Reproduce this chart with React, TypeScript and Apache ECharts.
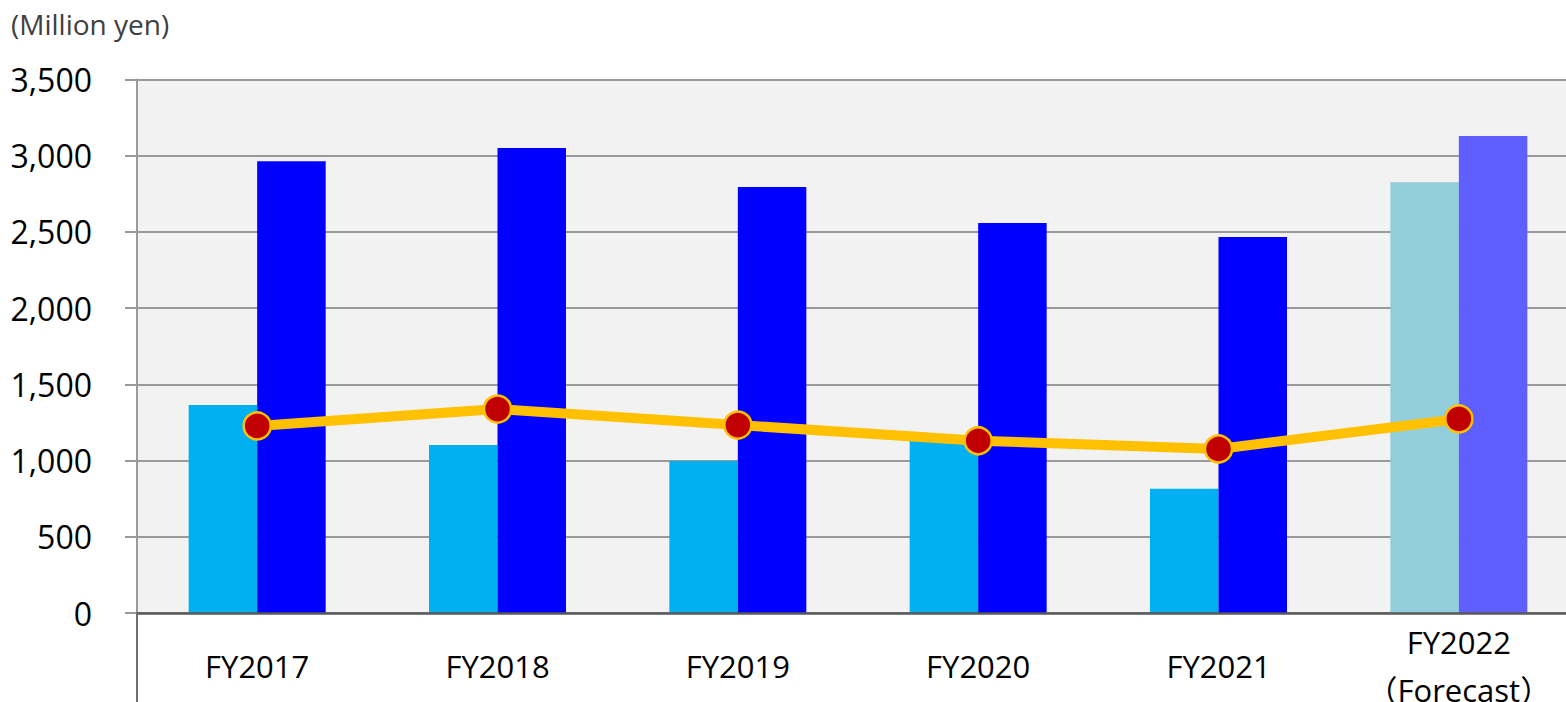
import React, { useEffect, useRef } from "react";
import * as echarts from "echarts";

const categories = ["FY2017", "FY2018", "FY2019", "FY2020", "FY2021", "FY2022\n（Forecast）"];
const isForecast = [false, false, false, false, false, true];
const series1 = [1365, 1102, 997, 1135, 815, 2826];
const series2 = [2963, 3051, 2795, 2559, 2467, 3129];
const lineValues = [1227, 1338, 1233, 1130, 1076, 1273];
const yTicks = [0, 500, 1000, 1500, 2000, 2500, 3000, 3500];

const FONT = "'Open Sans', 'Noto Sans CJK JP', sans-serif";

export default function App() {
  const ref = useRef<HTMLDivElement>(null);
  useEffect(() => {
    if (!ref.current) return;
    const chart = echarts.init(ref.current, null, { renderer: "svg" });
    const mk = (vals: number[], c: string, fc: string) =>
      vals.map((v, i) => ({ value: v, itemStyle: { color: isForecast[i] ? fc : c } }));
    chart.setOption({
      animation: false,
      backgroundColor: "#ffffff",
      textStyle: { fontFamily: FONT },
      grid: {
        left: 137,
        top: 79.5,
        width: 1442,
        bottom: 89,
        show: true,
        backgroundColor: "#F2F2F2",
        borderWidth: 0,
        containLabel: false,
        outerBoundsMode: "none",
      },
      graphic: [
        {
          type: "text",
          left: 11,
          top: 10,
          style: { text: "(Million yen)", fontSize: 28, fill: "#404040", fontFamily: FONT },
        },
        {
          type: "line",
          shape: { x1: 137, y1: 613, x2: 137, y2: 702 },
          style: { stroke: "#6f6f6f", lineWidth: 2 },
          z: 10,
        },
      ],
      xAxis: {
        type: "category",
        data: categories,
        axisLine: { show: true, lineStyle: { color: "#595959", width: 2.5 } },
        axisTick: { show: false },
        axisLabel: {
          fontSize: 31,
          color: "#000",
          margin: 53,
          lineHeight: 48,
          verticalAlign: "middle",
          fontFamily: FONT,
          interval: 0,
        },
        z: 5,
      },
      yAxis: {
        type: "value",
        min: yTicks[0],
        max: yTicks[yTicks.length - 1],
        interval: 500,
        axisLine: { show: true, lineStyle: { color: "#9a9a9a", width: 2 } },
        axisTick: { show: true, length: 12, lineStyle: { color: "#9a9a9a", width: 2 } },
        splitLine: { show: true, lineStyle: { color: "#9a9a9a", width: 2 } },
        axisLabel: {
          fontSize: 32,
          color: "#000",
          margin: 45,
          fontFamily: FONT,
          formatter: (v: number) => v.toLocaleString("en-US"),
        },
      },
      series: [
        {
          type: "bar",
          data: mk(series1, "#00B0F0", "#92CDDC"),
          barWidth: 68.5,
          barGap: "0%",
          z: 2,
        },
        {
          type: "bar",
          data: mk(series2, "#0000FF", "#5F5FFF"),
          barWidth: 68.5,
          barGap: "0%",
          z: 2,
        },
        {
          type: "line",
          data: lineValues,
          lineStyle: { color: "#FFC000", width: 10 },
          symbol: "circle",
          symbolSize: 27,
          itemStyle: { color: "#C00000", borderColor: "#FFC000", borderWidth: 2.5 },
          z: 4,
        },
      ],
    });
    return () => chart.dispose();
  }, []);
  return (
    <div
      ref={ref}
      style={{ position: "absolute", left: 0, top: 0, width: 1566, height: 702, overflow: "hidden" }}
    />
  );
}
